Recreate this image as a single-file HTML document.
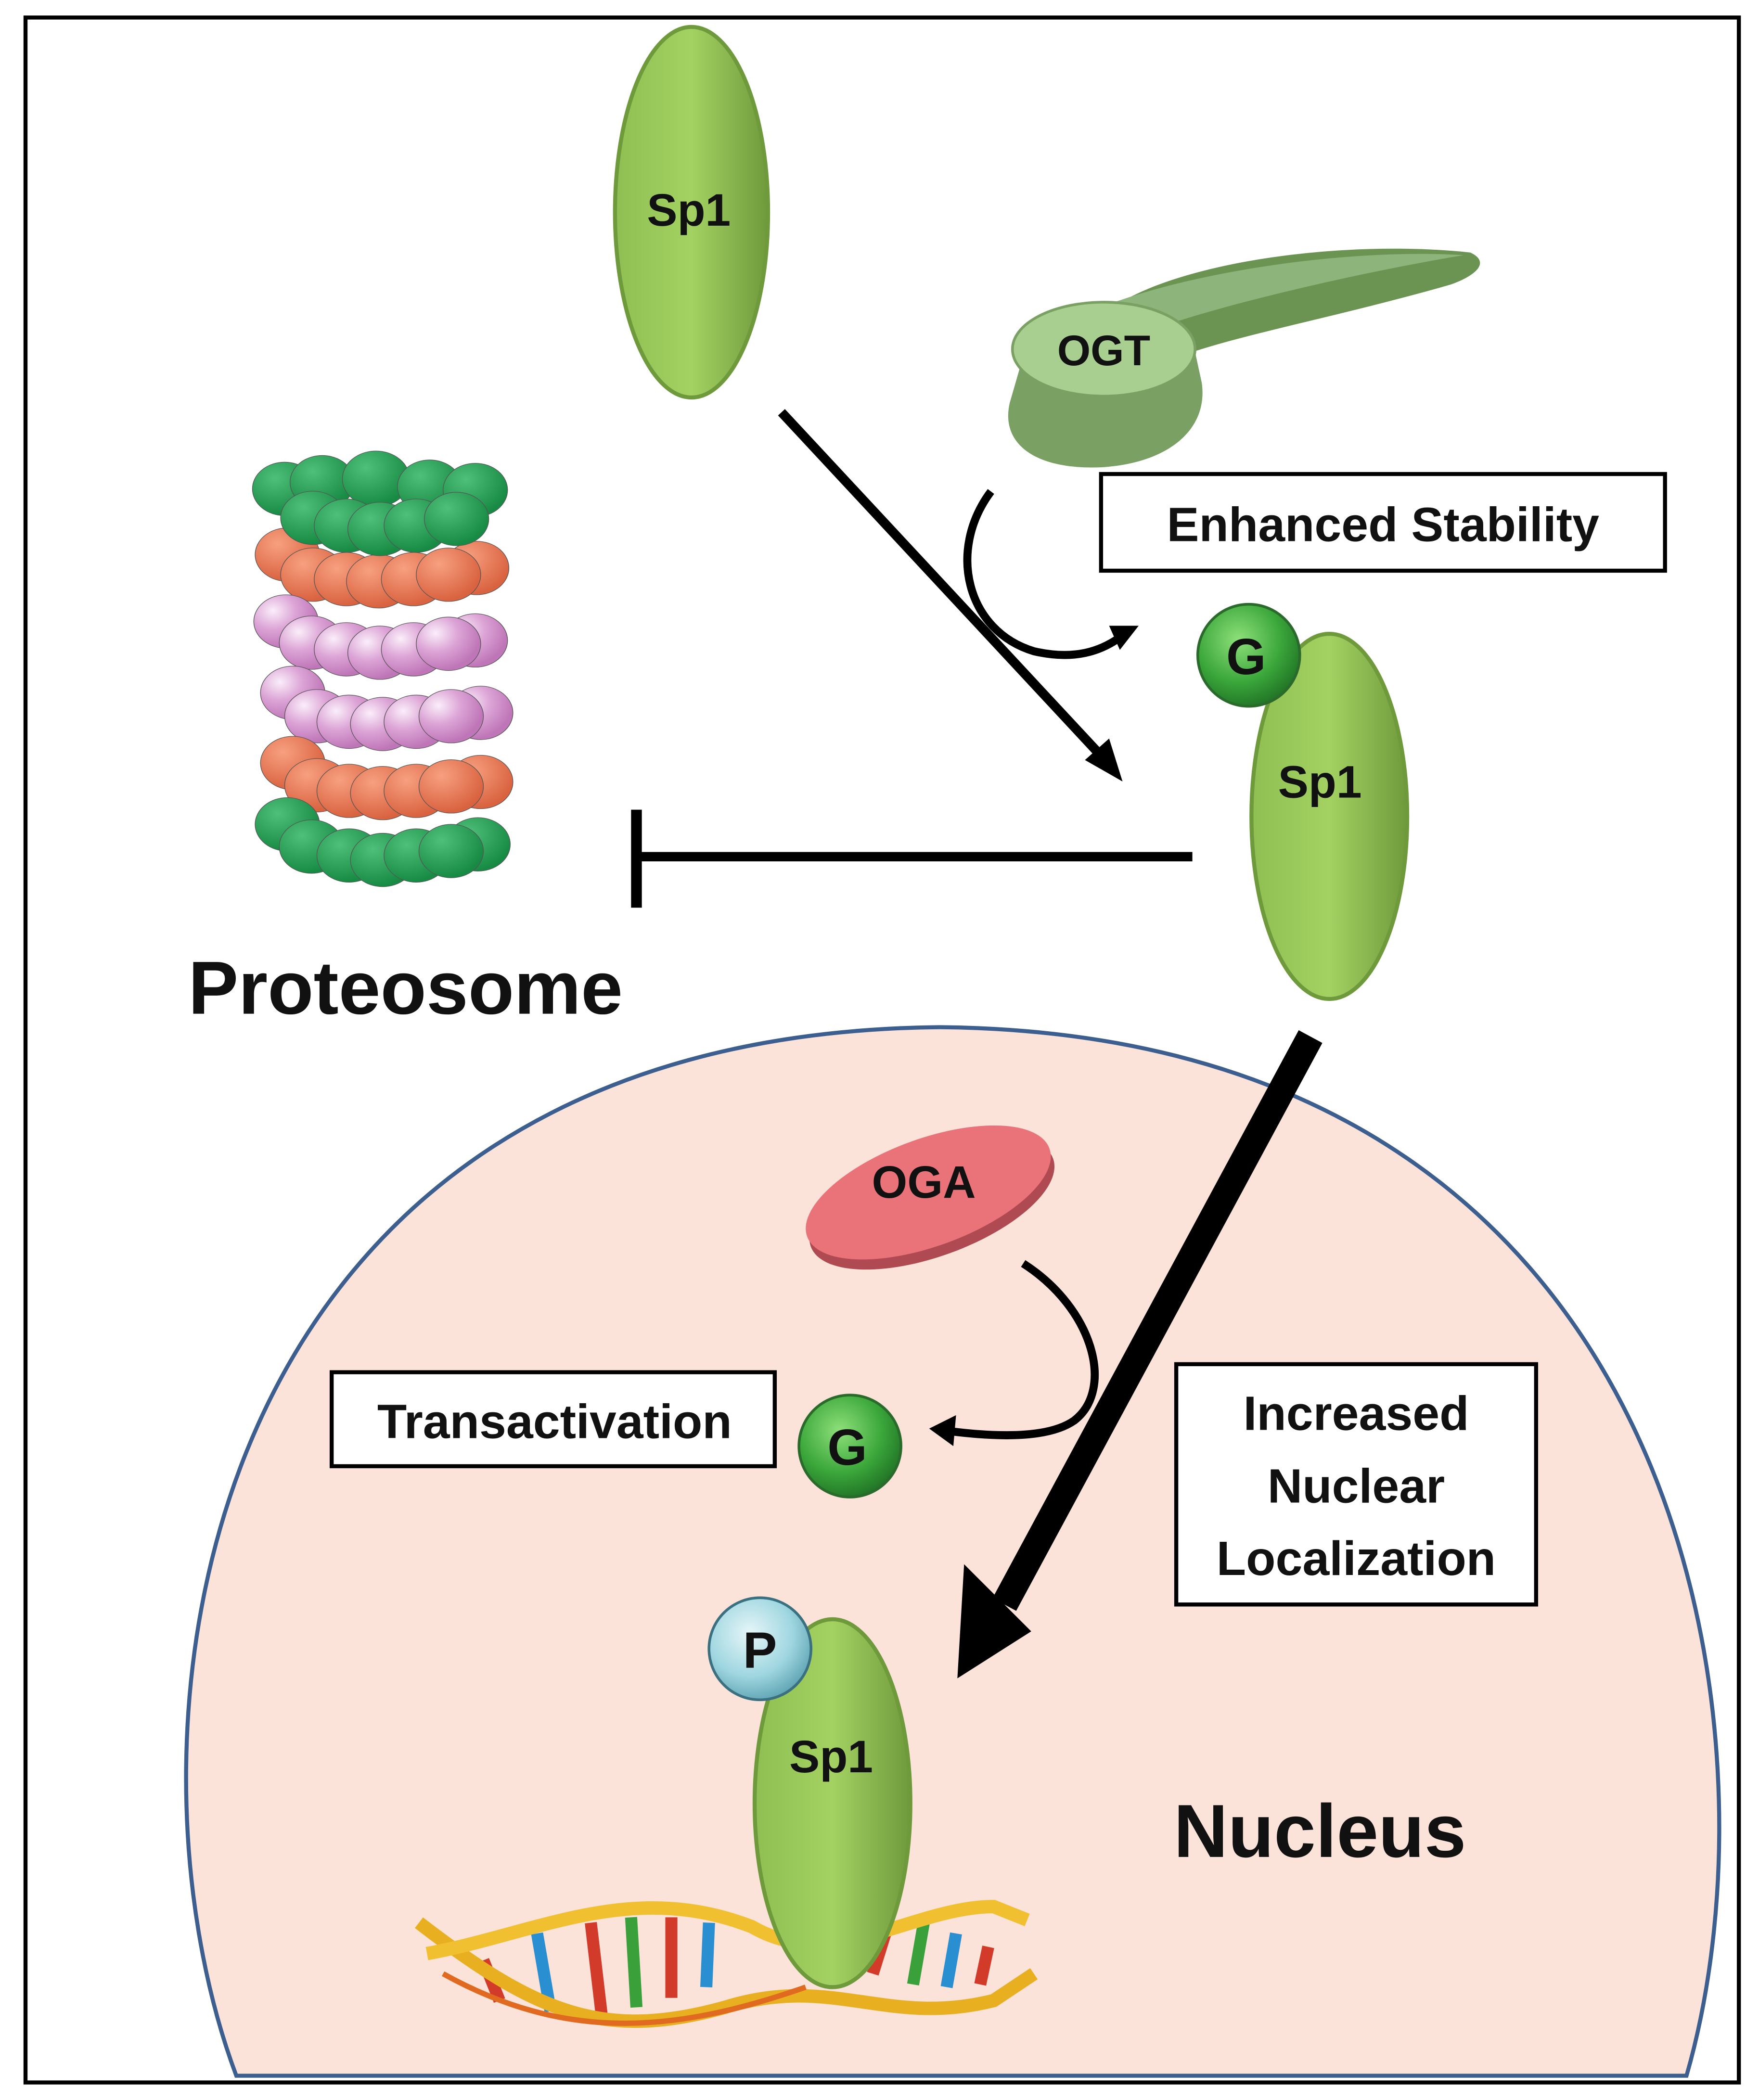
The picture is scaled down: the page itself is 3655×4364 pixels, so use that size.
<!DOCTYPE html>
<html><head><meta charset="utf-8"><style>
html,body{margin:0;padding:0;background:#fff}
svg{display:block}
text{font-family:"Liberation Sans",sans-serif;font-weight:bold;fill:#111}
</style></head><body>
<svg width="3655" height="4364" viewBox="0 0 1310 1564" xmlns="http://www.w3.org/2000/svg">
<defs>
<linearGradient id="sp" x1="0" x2="1" y1="0" y2="0"><stop offset="0" stop-color="#8fbf52"/><stop offset="0.5" stop-color="#a3d262"/><stop offset="1" stop-color="#6f9a3c"/></linearGradient>
<radialGradient id="gg" cx="0.4" cy="0.35" r="0.7"><stop offset="0" stop-color="#8ee07a"/><stop offset="0.6" stop-color="#3aa63a"/><stop offset="1" stop-color="#1f6f24"/></radialGradient>
<radialGradient id="pg" cx="0.4" cy="0.35" r="0.7"><stop offset="0" stop-color="#e6f6f8"/><stop offset="0.6" stop-color="#9fd6e0"/><stop offset="1" stop-color="#5aa0b0"/></radialGradient>
<radialGradient id="grn" cx="0.35" cy="0.3" r="0.7"><stop offset="0" stop-color="#4fc07a"/><stop offset="1" stop-color="#178a44"/></radialGradient>
<radialGradient id="org" cx="0.35" cy="0.3" r="0.7"><stop offset="0" stop-color="#f7a080"/><stop offset="1" stop-color="#d9623f"/></radialGradient>
<radialGradient id="pnk" cx="0.3" cy="0.3" r="0.7"><stop offset="0" stop-color="#fbeefa"/><stop offset="0.5" stop-color="#dca4d6"/><stop offset="1" stop-color="#bf76b8"/></radialGradient>
</defs>
<rect x="19" y="13" width="1276" height="1538" fill="#fff" stroke="#000" stroke-width="3"/>
<path d="M176,1546 C80,1290 140,770 700,765 C1260,770 1330,1290 1256,1546 Z" fill="#fbe3da" stroke="#3d5f8f" stroke-width="3"/>
<ellipse cx="515" cy="158" rx="57" ry="138" fill="url(#sp)" stroke="#6f9a3c" stroke-width="3"/>
<text x="513" y="168" font-size="34" text-anchor="middle">Sp1</text>
<path d="M830,228 C880,195 1000,178 1095,188 C1110,195 1100,205 1080,212 C1000,235 920,250 880,265 Z" fill="#6b9453"/>
<path d="M830,225 C900,200 1010,185 1090,190 C1000,205 900,230 860,245 Z" fill="#8db47a"/>
<path d="M752,300 C745,330 770,350 820,348 C870,345 900,320 895,285 L890,262 C860,240 790,235 765,255 Z" fill="#7aa064"/>
<ellipse cx="822" cy="260" rx="68" ry="35" fill="#a8cf90" stroke="#7aa064" stroke-width="2"/>
<text x="822" y="272" font-size="32" text-anchor="middle">OGT</text>
<rect x="820" y="353" width="420" height="72" fill="#fff" stroke="#000" stroke-width="3"/>
<text x="1030" y="403" font-size="36" text-anchor="middle">Enhanced Stability</text>
<line x1="582" y1="307" x2="822" y2="565" stroke="#000" stroke-width="7"/>
<polygon points="836,582 808,566 826,550" fill="#000"/>
<path d="M738,366 C705,410 720,470 770,485 C800,492 820,485 835,474" fill="none" stroke="#000" stroke-width="6"/>
<polygon points="848,466 826,466 834,484" fill="#000"/>
<ellipse cx="990" cy="608" rx="58" ry="136" fill="url(#sp)" stroke="#6f9a3c" stroke-width="3"/>
<circle cx="930" cy="488" r="38" fill="url(#gg)" stroke="#2a6a2a" stroke-width="2"/>
<text x="928" y="502" font-size="38" text-anchor="middle">G</text>
<text x="983" y="594" font-size="34" text-anchor="middle">Sp1</text>
<line x1="888" y1="638" x2="473" y2="638" stroke="#000" stroke-width="7"/>
<line x1="474" y1="603" x2="474" y2="676" stroke="#000" stroke-width="8"/>
<g transform="translate(0,57.8) scale(1,0.83)">
<g stroke="#555" stroke-width="0.5">
<g fill="url(#grn)">
<circle cx="212" cy="369" r="24"/><circle cx="240" cy="363" r="24"/><circle cx="280" cy="360" r="25"/><circle cx="320" cy="367" r="24"/><circle cx="354" cy="370" r="24"/>
</g>
<g fill="url(#org)">
<circle cx="214" cy="428" r="24"/><circle cx="355" cy="440" r="24"/>
<circle cx="233" cy="446" r="24"/><circle cx="258" cy="450" r="24"/><circle cx="282" cy="452" r="24"/><circle cx="308" cy="450" r="24"/><circle cx="334" cy="446" r="24"/>
</g>
<g fill="url(#grn)">
<circle cx="233" cy="395" r="24"/><circle cx="258" cy="402" r="24"/><circle cx="283" cy="405" r="24"/><circle cx="310" cy="402" r="24"/><circle cx="340" cy="396" r="24"/>
</g>
<g fill="url(#pnk)">
<circle cx="213" cy="488" r="24"/><circle cx="232" cy="507" r="24"/><circle cx="258" cy="513" r="24"/><circle cx="283" cy="516" r="24"/><circle cx="308" cy="513" r="24"/><circle cx="354" cy="505" r="24"/><circle cx="334" cy="508" r="24"/>
<circle cx="218" cy="552" r="24"/><circle cx="236" cy="573" r="24"/><circle cx="260" cy="578" r="24"/><circle cx="285" cy="580" r="24"/><circle cx="310" cy="578" r="24"/><circle cx="358" cy="570" r="24"/><circle cx="336" cy="573" r="24"/>
</g>
<g fill="url(#org)">
<circle cx="218" cy="615" r="24"/><circle cx="236" cy="635" r="24"/><circle cx="260" cy="640" r="24"/><circle cx="285" cy="642" r="24"/><circle cx="310" cy="640" r="24"/><circle cx="358" cy="632" r="24"/><circle cx="336" cy="636" r="24"/>
</g>
<g fill="url(#grn)">
<circle cx="214" cy="670" r="24"/><circle cx="232" cy="690" r="24"/><circle cx="260" cy="698" r="24"/><circle cx="285" cy="702" r="24"/><circle cx="310" cy="698" r="24"/><circle cx="356" cy="688" r="24"/><circle cx="336" cy="694" r="24"/>
</g>
</g>
</g>
<text x="302" y="755" font-size="56" text-anchor="middle">Proteosome</text>
<line x1="976" y1="772" x2="748" y2="1195" stroke="#000" stroke-width="20"/>
<polygon points="713,1250 718,1165 768,1215" fill="#000"/>
<g transform="rotate(-20 692 890)">
<ellipse cx="692" cy="896" rx="96" ry="40" fill="#b04a52"/>
<ellipse cx="692" cy="888" rx="96" ry="40" fill="#ea737a"/>
</g>
<text x="688" y="892" font-size="34" text-anchor="middle">OGA</text>
<path d="M762,941 C815,975 830,1035 800,1058 C780,1072 740,1070 708,1066" fill="none" stroke="#000" stroke-width="6"/>
<polygon points="692,1064 712,1054 710,1077" fill="#000"/>
<rect x="247" y="1022" width="330" height="70" fill="#fff" stroke="#000" stroke-width="3"/>
<text x="413" y="1071" font-size="36" text-anchor="middle">Transactivation</text>
<circle cx="633" cy="1077" r="38" fill="url(#gg)" stroke="#2a6a2a" stroke-width="2"/>
<text x="631" y="1091" font-size="38" text-anchor="middle">G</text>
<rect x="876" y="1016" width="268" height="179" fill="#fff" stroke="#000" stroke-width="3"/>
<text x="1010" y="1065" font-size="36" text-anchor="middle">Increased</text>
<text x="1010" y="1119" font-size="36" text-anchor="middle">Nuclear</text>
<text x="1010" y="1173" font-size="36" text-anchor="middle">Localization</text>
<g stroke-width="9">
<line x1="360" y1="1460" x2="372" y2="1490" stroke="#d23a2a"/>
<line x1="400" y1="1440" x2="410" y2="1498" stroke="#2a8fd0"/>
<line x1="440" y1="1432" x2="448" y2="1500" stroke="#d23a2a"/>
<line x1="470" y1="1428" x2="474" y2="1495" stroke="#3aa03a"/>
<line x1="500" y1="1428" x2="500" y2="1488" stroke="#d23a2a"/>
<line x1="528" y1="1432" x2="526" y2="1480" stroke="#2a8fd0"/>
<line x1="650" y1="1470" x2="660" y2="1438" stroke="#d23a2a"/>
<line x1="680" y1="1478" x2="688" y2="1432" stroke="#3aa03a"/>
<line x1="705" y1="1480" x2="712" y2="1440" stroke="#2a8fd0"/>
<line x1="730" y1="1478" x2="736" y2="1450" stroke="#d23a2a"/>
</g>
<path d="M312,1432 C400,1500 450,1520 540,1495 C620,1470 660,1510 740,1490 L770,1470" fill="none" stroke="#e8b020" stroke-width="10"/>
<path d="M318,1455 C400,1440 470,1400 560,1435 C620,1470 680,1420 740,1420 L765,1430" fill="none" stroke="#f0c030" stroke-width="10"/>
<path d="M330,1470 C420,1520 500,1515 600,1480" fill="none" stroke="#e06a20" stroke-width="4"/>
<ellipse cx="620" cy="1343" rx="58" ry="137" fill="url(#sp)" stroke="#6f9a3c" stroke-width="3"/>
<circle cx="566" cy="1228" r="38" fill="url(#pg)" stroke="#3a7080" stroke-width="2"/>
<text x="566" y="1242" font-size="38" text-anchor="middle">P</text>
<text x="619" y="1320" font-size="34" text-anchor="middle">Sp1</text>
<text x="983" y="1383" font-size="56" text-anchor="middle">Nucleus</text>
</svg>
</body></html>
